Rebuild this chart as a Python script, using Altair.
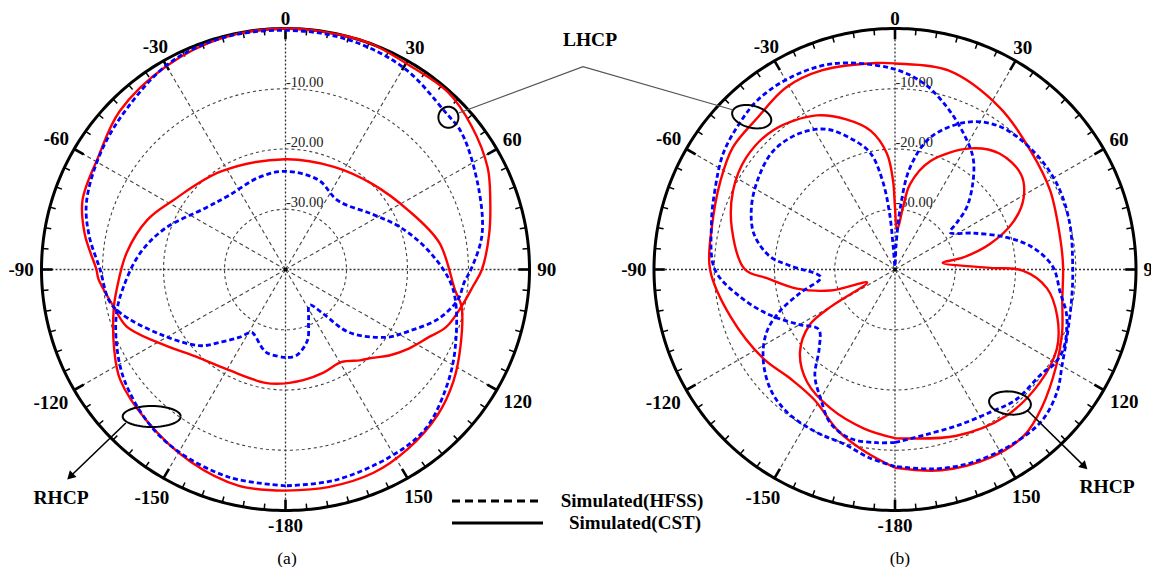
import numpy as np
import pandas as pd
import altair as alt

# ---------------- data: angle (deg, clockwise from top) and gain (dB) ----------------
# panel (a)
a_lhcp_cst_ang = [-180, -170, -151, -136, -120, -110, -102, -93, -90, -80, -71, -59, -46, -30, -15, 0, 15, 21, 31, 42,
                  52, 63, 71, 80, 90, 95, 102, 110, 116, 123, 130, 136, 141, 149, 160, 171, 180]
a_lhcp_cst_db = [-21.1, -20.9, -20.9, -19.6, -15.8, -12.3, -11.1, -9.3, -9.0, -6.6, -4.8, -4.1, -2.2, -1.0, -0.2, 0.0,
                 0.0, 0.0, -0.5, -0.3, -1.3, -2.8, -4.5, -6.1, -7.8, -9.1, -10.5, -12.0, -14.1, -15.9, -17.8, -19.6,
                 -20.6, -22.1, -21.8, -21.4, -21.1]

a_lhcp_hfss_ang = [-180, -167, -155, -152, -146, -139, -132, -117, -105, -100, -90, -80, -71, -57, -44, -29, -15, 0, 15,
                   30, 45, 52, 67, 80, 90, 94, 100, 108, 117, 124, 135, 140, 146, 156, 163, 173, 180]
a_lhcp_hfss_db = [-25.4, -25.9, -28.0, -28.2, -26.4, -24.1, -21.1, -16.6, -12.0, -10.6, -9.6, -7.3, -5.5, -4.0, -2.7,
                  -0.8, -0.2, -0.3, -0.5, -1.3, -3.0, -3.3, -5.6, -7.3, -9.6, -10.6, -11.3, -13.6, -17.4, -19.9, -25.2,
                  -30.5, -32.9, -30.7, -27.7, -25.6, -25.4]

a_rhcp_cst_ang = [-180, -168, -154, -138, -124, -115, -103, -97, -84, -70, -58, -33, 0, 25, 45, 64, 80, 97, 102, 114,
                  124, 134, 146, 157, 169, 180]
a_rhcp_cst_db = [-3.3, -3.3, -4.5, -6.1, -7.3, -9.0, -11.1, -12.1, -13.8, -15.9, -18.3, -20.6, -21.7, -21.2, -19.9,
                 -17.6, -14.4, -12.0, -10.5, -8.6, -6.8, -5.3, -4.1, -3.3, -3.2, -3.3]

a_rhcp_hfss_ang = [-180, -165, -149, -138, -125, -115, -105, -97, -84, -71, -52, -37, -16, 0, 20, 37, 57, 70, 84, 97,
                   115, 127, 139, 151, 167, 180]
a_rhcp_hfss_db = [-4.1, -4.3, -5.1, -6.1, -7.8, -9.5, -11.3, -13.1, -15.9, -19.1, -23.4, -24.6, -24.1, -23.7, -24.2,
                  -25.7, -23.1, -19.8, -15.9, -12.3, -9.3, -7.1, -5.0, -4.5, -4.1, -4.1]

# panel (b)
b_lhcp_cst_ang = [-180, -171, -161, -148, -136, -124, -106, -90, -77, -63, -53, -42, -31, -20, -5, 0, 15, 33, 49, 63,
                  80, 89, 100, 111, 121, 133, 142, 153, 167, 180]
b_lhcp_cst_db = [-7.1, -9.3, -11.5, -14.6, -14.9, -13.6, -11.6, -9.3, -8.8, -7.5, -6.3, -6.0, -4.8, -4.8, -5.6, -5.8,
                 -5.8, -8.0, -10.1, -11.1, -12.1, -12.1, -11.8, -10.3, -8.8, -6.6, -5.1, -5.0, -5.8, -7.1]

b_rhcp_cst_ang = [-180, -169, -155, -142, -131, -123, -120, -115, -108, -101, -94, -90, -76, -64, -53, -41, -27, -18,
                  -10, -4, -1.3, 0, 3, 7.4, 10, 18, 32, 42, 53, 61, 68, 75, 80, 82, 89, 90.5, 97, 106, 116, 128, 143,
                  160, 180]
b_rhcp_cst_db = [-12.0, -13.1, -14.6, -16.3, -19.1, -23.1, -28.0, -34.9, -28.7, -23.4, -18.8, -15.1, -12.1, -10.1,
                 -9.1, -9.3, -11.3, -13.8, -16.6, -20.7, -25.2, -29.7, -33.5, -29.5, -25.6, -21.1, -16.3, -14.1,
                 -13.8, -15.6, -18.8, -23.7, -28.5, -32.0, -24.2, -18.8, -14.6, -12.0, -10.1, -9.5, -9.5, -10.6,
                 -12.0]

b_lhcp_hfss_ang = [-180, -174, -165, -157, -150, -143, -136, -128, -120, -110, -100, -90, -76, -66, -56, -47, -39, -29,
                   -17, -1, 9, 18, 27, 35, 42, 49, 53, 56, 65, 74, 81, 89, 98, 105, 115, 121, 125, 137, 146, 158, 170,
                   178, 180]
b_lhcp_hfss_db = [-11.3, -11.1, -11.0, -12.4, -15.3, -17.9, -21.9, -23.9, -21.7, -17.9, -13.9, -10.1, -8.6, -7.3,
                  -5.6, -4.6, -3.8, -3.7, -4.3, -6.6, -8.8, -11.8, -14.8, -17.4, -20.7, -24.2, -27.2, -29.0, -25.7,
                  -20.7, -16.8, -13.8, -12.3, -10.5, -9.1, -9.3, -10.1, -10.5, -11.5, -12.1, -12.1, -11.5, -11.3]

b_rhcp_hfss_ang = [-180, -172, -164, -154, -143, -134, -124, -116, -110, -104, -96, -88, -84, -76, -67, -57, -46, -35,
                   -26, -19, -12, -8, -5.5, -4.5, 0, 2.5, 5, 8.4, 15, 26, 36, 49, 62, 75, 90, 99, 110, 120, 127, 136,
                   147, 158, 167, 172, 180]
b_rhcp_hfss_db = [-7.3, -8.5, -9.8, -10.0, -10.3, -11.3, -13.6, -16.3, -19.6, -23.7, -27.6, -22.6, -19.1, -15.9,
                  -14.1, -12.8, -11.8, -12.4, -14.1, -16.9, -20.2, -25.1, -30.7, -36.3, -39.5, -36.0, -29.5, -22.9,
                  -17.3, -12.8, -10.6, -9.8, -9.6, -10.0, -10.5, -10.3, -9.5, -8.0, -6.3, -5.0, -5.1, -5.5, -6.1,
                  -6.6, -7.3]

grid_levels = [-10, -20, -30]
grid_labels = ["-10.00", "-20.00", "-30.00"]
angle_ticks = [0, 30, 60, 90, 120, 150, 180, 210, 240, 270, 300, 330]
angle_labels = ["0", "30", "60", "90", "120", "150", "-180", "-150", "-120", "-90", "-60", "-30"]
legend_labels = ["Simulated(HFSS)", "Simulated(CST)"]
captions = ["(a)", "(b)"]

# ---------------- layout ----------------
W, H = 1143, 559
CY, RY = 269.5, 241.0
CX = {"a": 285.5, "b": 895.0}
RX = {"a": 244.0, "b": 241.0}
FLOOR = -40.0
SERIF = "Liberation Serif"
RED, BLUE = "#ff0000", "#0000ff"
LAB_FS = 19


def polar(panel, ang, db):
    ang = np.asarray(ang, float)
    rr = (np.clip(np.asarray(db, float), FLOOR, 10) - FLOOR) / (-FLOOR)
    t = np.radians(ang)
    return CX[panel] + RX[panel] * rr * np.sin(t), CY - RY * rr * np.cos(t)


xs = alt.Scale(domain=[8, 8 + W], nice=False, zero=False)
ys = alt.Scale(domain=[8, 8 + H], nice=False, zero=False, reverse=True)


def enc(ch, f="x", f2=None, fy="y", fy2=None):
    e = dict(x=alt.X(f"{f}:Q", scale=xs, axis=None), y=alt.Y(f"{fy}:Q", scale=ys, axis=None))
    if f2:
        e["x2"] = alt.X2(f"{f2}:Q")
    if fy2:
        e["y2"] = alt.Y2(f"{fy2}:Q")
    return ch.encode(**e)


# ---------------- curves ----------------
curves = [
    ("a", "LHCP", "CST", a_lhcp_cst_ang, a_lhcp_cst_db),
    ("a", "LHCP", "HFSS", a_lhcp_hfss_ang, a_lhcp_hfss_db),
    ("a", "RHCP", "CST", a_rhcp_cst_ang, a_rhcp_cst_db),
    ("a", "RHCP", "HFSS", a_rhcp_hfss_ang, a_rhcp_hfss_db),
    ("b", "LHCP", "CST", b_lhcp_cst_ang, b_lhcp_cst_db),
    ("b", "RHCP", "CST", b_rhcp_cst_ang, b_rhcp_cst_db),
    ("b", "LHCP", "HFSS", b_lhcp_hfss_ang, b_lhcp_hfss_db),
    ("b", "RHCP", "HFSS", b_rhcp_hfss_ang, b_rhcp_hfss_db),
]
rows = []
for panel, pol, sim, ang, db in curves:
    x, y = polar(panel, ang, db)
    for i in range(len(x)):
        rows.append(dict(curve=f"{panel}-{pol}-{sim}", sim=sim, i=i, x=x[i], y=y[i]))
cdf = pd.DataFrame(rows)

# ---------------- grid ----------------
circ_rows, ring_rows, spoke_rows, tick_rows, lab_rows, lvl_rows, dot_rows = [], [], [], [], [], [], []
circ_ang = np.arange(0, 361, 2)
ring_ang = np.arange(0, 361, 1)
for p in ["a", "b"]:
    for lv in grid_levels:
        x, y = polar(p, circ_ang, np.full(len(circ_ang), lv))
        for i in range(len(x)):
            circ_rows.append(dict(key=f"{p}{lv}", i=i, x=x[i], y=y[i]))
    x, y = polar(p, ring_ang, np.zeros(len(ring_ang)))
    for i in range(len(x)):
        ring_rows.append(dict(key=p, i=i, x=x[i], y=y[i]))
    for a in angle_ticks:
        x0, y0 = polar(p, [a], [FLOOR])
        x1, y1 = polar(p, [a], [0])
        spoke_rows.append(dict(x=x0[0], y=y0[0], x2=x1[0], y2=y1[0], isdot=(a % 90 == 0)))
    for a in range(0, 360, 5):
        major = a % 30 == 0
        x0, y0 = polar(p, [a], [0])
        x1, y1 = polar(p, [a], [-1.8 if major else -1.0])
        tick_rows.append(dict(x=x0[0], y=y0[0], x2=x1[0], y2=y1[0], major=major))
    for a, lab in zip(angle_ticks, angle_labels):
        t = np.radians(a)
        w = 0.5 * LAB_FS * sum(c.isdigit() for c in lab) + 0.333 * LAB_FS * lab.count("-")
        c = np.cos(t)
        r = 246.5 + 2 * (1 - c) + (w / 2) * abs(np.sin(t)) + 6 * abs(c) - 2.0 * max(c, 0) ** 4
        lab_rows.append(dict(x=CX[p] + r * RX[p] / RY * np.sin(t), y=CY - r * c, t=lab))
    for lv, lab in zip(grid_levels, grid_labels):
        rr = (lv - FLOOR) / (-FLOOR)
        lvl_rows.append(dict(x=CX[p] + 0.5, y=CY - RY * rr - 6, t=lab))
    dot_rows.append(dict(x=CX[p], y=CY))

circ_df = pd.DataFrame(circ_rows)
ring_df = pd.DataFrame(ring_rows)
spoke_df = pd.DataFrame(spoke_rows)
tick_df = pd.DataFrame(tick_rows)
lab_df = pd.DataFrame(lab_rows)
lvl_df = pd.DataFrame(lvl_rows)
dot_df = pd.DataFrame(dot_rows)

layers = []
layers.append(enc(alt.Chart(circ_df).mark_line(color="#444", strokeWidth=1.1, strokeDash=[3, 3]), "x", None, "y")
              .encode(detail="key:N", order="i:Q"))
layers.append(enc(alt.Chart(spoke_df[~spoke_df["isdot"]]).mark_rule(color="#444", strokeWidth=1.1,
                                                                    strokeDash=[4, 3]),
                  "x", "x2", "y", "y2"))
layers.append(enc(alt.Chart(spoke_df[spoke_df["isdot"]]).mark_rule(color="#333", strokeWidth=1.3, strokeDash=[2, 2]),
                  "x", "x2", "y", "y2"))
layers.append(enc(alt.Chart(ring_df).mark_line(color="black", strokeWidth=3), "x", None, "y")
              .encode(detail="key:N", order="i:Q"))
layers.append(enc(alt.Chart(tick_df[~tick_df["major"]]).mark_rule(color="black", strokeWidth=1.5),
                  "x", "x2", "y", "y2"))
layers.append(enc(alt.Chart(tick_df[tick_df["major"]]).mark_rule(color="black", strokeWidth=2.6),
                  "x", "x2", "y", "y2"))
layers.append(enc(alt.Chart(dot_df).mark_point(color="black", filled=True, size=14, opacity=1), "x", None, "y"))

# level labels under the curves
layers.append(enc(alt.Chart(lvl_df).mark_text(font=SERIF, fontSize=14.5, color="#222222", align="left",
                                              baseline="middle"), "x", None, "y").encode(text="t:N"))

# curves: red solid (CST) then blue dashed (HFSS)
layers.append(enc(alt.Chart(cdf[cdf["sim"] == "CST"]).mark_line(color=RED, strokeWidth=2.4,
                                                                interpolate="catmull-rom"),
                  "x", None, "y").encode(detail="curve:N", order="i:Q"))
layers.append(enc(alt.Chart(cdf[cdf["sim"] == "HFSS"]).mark_line(color=BLUE, strokeWidth=2.8, strokeDash=[5, 3],
                                                                 interpolate="catmull-rom"),
                  "x", None, "y").encode(detail="curve:N", order="i:Q"))

# angle labels
layers.append(enc(alt.Chart(lab_df).mark_text(font=SERIF, fontSize=LAB_FS, fontWeight="bold", color="black",
                                              align="center", baseline="middle"), "x", None, "y")
              .encode(text="t:N"))

# ---------------- annotations ----------------
ell_specs = [  # center x, center y, rx, ry, tilt
    (448.4, 117.3, 10, 10.5, 0),
    (151.7, 416.5, 29, 10.5, 0),
    (751.7, 116.7, 20, 11, 14),
    (1010.0, 403.0, 21, 11.5, 6),
]
ell_rows = []
tt = np.radians(np.arange(0, 361, 6))
for k, (ex, ey, erx, ery, tilt) in enumerate(ell_specs):
    ph = np.radians(tilt)
    px = erx * np.cos(tt)
    py = ery * np.sin(tt)
    for i in range(len(tt)):
        ell_rows.append(dict(key=k, i=i, x=ex + px[i] * np.cos(ph) - py[i] * np.sin(ph),
                             y=ey + px[i] * np.sin(ph) + py[i] * np.cos(ph)))
ell_df = pd.DataFrame(ell_rows)
layers.append(enc(alt.Chart(ell_df).mark_line(color="black", strokeWidth=2), "x", None, "y")
              .encode(detail="key:N", order="i:Q"))

conn_df = pd.DataFrame(dict(i=[0, 1, 2], x=[458.7, 583.0, 733.3], y=[113.0, 66.7, 110.0]))
layers.append(enc(alt.Chart(conn_df).mark_line(color="#555", strokeWidth=1.3), "x", None, "y")
              .encode(order="i:Q"))

arrows = [((125.8, 423.0), (66.6, 480.0)), ((1027.0, 410.0), (1088.0, 470.0))]
arr_rows, head_rows = [], []
for (sx, sy), (tx, ty) in arrows:
    d = np.array([tx - sx, ty - sy])
    u = d / np.linalg.norm(d)
    arr_rows.append(dict(x=sx, y=sy, x2=tx - 4 * u[0], y2=ty - 4 * u[1]))
    rot = float(np.degrees(np.arctan2(u[0], -u[1])) % 360)
    head_rows.append(dict(x=tx - 5 * u[0], y=ty - 5 * u[1], rot=rot))
arr_df = pd.DataFrame(arr_rows)
layers.append(enc(alt.Chart(arr_df).mark_rule(color="black", strokeWidth=1.6), "x", "x2", "y", "y2"))
for hr in head_rows:
    layers.append(enc(alt.Chart(pd.DataFrame([hr])).mark_point(shape="triangle-up", filled=True, size=90,
                                                               color="black", opacity=1, angle=hr["rot"]),
                      "x", None, "y"))

ann_df = pd.DataFrame(dict(x=[590.0, 61.0, 1107.0], y=[40.0, 498.0, 487.0], t=["LHCP", "RHCP", "RHCP"]))
layers.append(enc(alt.Chart(ann_df).mark_text(font=SERIF, fontSize=19.5, fontWeight="bold", color="black",
                                              align="center", baseline="middle"), "x", None, "y")
              .encode(text="t:N"))

# legend
leg_line_df = pd.DataFrame(dict(x=[452.0, 452.0], x2=[543.0, 543.0], y=[501.0, 523.0], y2=[501.0, 523.0],
                                s=["HFSS", "CST"]))
layers.append(enc(alt.Chart(leg_line_df[leg_line_df["s"] == "HFSS"]).mark_rule(color="black", strokeWidth=3,
                                                                               strokeDash=[8, 5]),
                  "x", "x2", "y", "y2"))
layers.append(enc(alt.Chart(leg_line_df[leg_line_df["s"] == "CST"]).mark_rule(color="black", strokeWidth=3),
                  "x", "x2", "y", "y2"))
leg_txt_df = pd.DataFrame(dict(x=[632.0, 635.0], y=[501.0, 523.0], t=legend_labels))
layers.append(enc(alt.Chart(leg_txt_df).mark_text(font=SERIF, fontSize=19, fontWeight="bold", color="black",
                                                  align="center", baseline="middle"), "x", None, "y")
              .encode(text="t:N"))

cap_df = pd.DataFrame(dict(x=[287.0, 900.0], y=[558.5, 558.5], t=captions))
layers.append(enc(alt.Chart(cap_df).mark_text(font=SERIF, fontSize=17.5, color="black", align="center",
                                              baseline="middle"), "x", None, "y").encode(text="t:N"))

chart = alt.layer(*layers).properties(
    width=W, height=H, padding=0, autosize=alt.AutoSizeParams(type="none"), background="white"
).configure_view(stroke=None)

chart.save("out.html", embed_options={"renderer": "svg", "actions": False})
